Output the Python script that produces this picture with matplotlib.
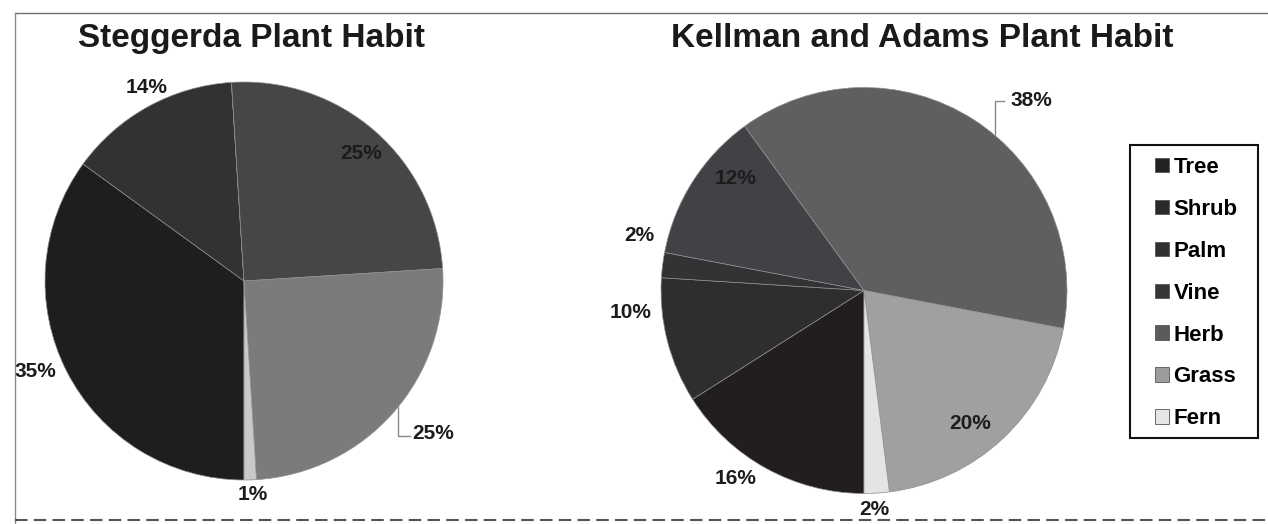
import matplotlib
matplotlib.use("Agg")
import matplotlib.pyplot as plt
from matplotlib.lines import Line2D
from matplotlib.patches import Rectangle

plt.rcParams['font.family'] = ['Liberation Sans', 'DejaVu Sans']

# plant habit shares (%) for the two surveys
habits = ['Tree', 'Shrub', 'Palm', 'Vine', 'Herb', 'Grass', 'Fern']
steggerda = [35, 14, 0, 0, 25, 25, 1]
kellman_adams = [16, 10, 2, 12, 38, 20, 2]

# grey shades of the printed slices
steggerda_colors = ['#1f1d1d', '#323234', '#38383b', '#3e3e42', '#464648', '#7b7b7b', '#c9c9c9']
kellman_colors = ['#211e1d', '#2e2e30', '#333336', '#414146', '#5f5f5f', '#a0a0a0', '#e4e4e4']
legend_colors = ['#222222', '#2a2a2a', '#303030', '#363636', '#5a5a5a', '#9c9c9c', '#e6e6e6']

# where each percentage sits, in pie-radius units (None = no label)
steggerda_label_xy = [(-1.05, -0.457), (-0.492, 0.97), None, None,
                      (0.588, 0.643), (0.95, -0.764), (0.045, -1.075)]
kellman_label_xy = [(-0.635, -0.924), (-1.148, -0.106), (-1.108, 0.273), (-0.631, 0.554),
                    (0.823, 0.938), (0.522, -0.653), (0.049, -1.081)]

W, H = 1268, 524
fig = plt.figure(figsize=(W / 100, H / 100), dpi=100)


def pie_axes(cx, cy, r):
    # axes box in pixel units, measured from the top left corner
    return fig.add_axes([(cx - r) / W, 1 - (cy + r) / H, 2 * r / W, 2 * r / H])


def draw_pie(ax, values, colors, label_xy):
    wedges, _ = ax.pie(values, colors=colors, startangle=-90, counterclock=False,
                       wedgeprops=dict(edgecolor='#8e8e8e', linewidth=0.5))
    ax.set_xlim(-1, 1)
    ax.set_ylim(-1, 1)
    ax.set_aspect('equal')
    for v, xy in zip(values, label_xy):
        if xy is None or v == 0:
            continue
        ax.text(xy[0], xy[1], f'{v}%', ha='center', va='center',
                fontsize=15, fontweight='bold', color='#1c1c1c')
    return wedges


ax1 = pie_axes(244, 281, 199)
draw_pie(ax1, steggerda, steggerda_colors, steggerda_label_xy)
ax1.plot([0.773, 0.773, 0.833], [-0.634, -0.78, -0.78], color='#8a8a8a', lw=1, clip_on=False)

ax2 = pie_axes(864, 290.5, 203)
draw_pie(ax2, kellman_adams, kellman_colors, kellman_label_xy)
ax2.plot([0.645, 0.645, 0.69], [0.764, 0.933, 0.933], color='#8a8a8a', lw=1, clip_on=False)

fig.text(251 / W, 1 - 47 / H, 'Steggerda Plant Habit', ha='center', va='baseline',
         fontsize=24, fontweight='bold', color='#1a1a1a')
fig.text(922 / W, 1 - 47 / H, 'Kellman and Adams Plant Habit', ha='center', va='baseline',
         fontsize=24, fontweight='bold', color='#1a1a1a')

handles = [Rectangle((0, 0), 1, 1, facecolor=c, edgecolor='#555555', linewidth=0.6)
           for c in legend_colors]
fig.legend(handles=handles, labels=habits, loc='upper left',
           bbox_to_anchor=(1155 / W, 1 - 157 / H), frameon=False,
           borderpad=0, borderaxespad=0, fontsize=16, handlelength=0.63,
           handleheight=0.63, handletextpad=0.2, labelspacing=0.94,
           prop=dict(size=16, weight='bold'))
fig.add_artist(Rectangle((1130 / W, 1 - 438 / H), 128 / W, 293 / H, transform=fig.transFigure,
                         fill=False, edgecolor='#111111', linewidth=1.5))

# page frame around both charts
fig.add_artist(Line2D([15 / W, 1], [1 - 13 / H] * 2, transform=fig.transFigure,
                      color='#6e6e6e', lw=1))
fig.add_artist(Line2D([15 / W] * 2, [1 - 13 / H, 0], transform=fig.transFigure,
                      color='#8a8a8a', lw=1))
fig.add_artist(Line2D([15 / W, 1], [1 - 520 / H] * 2, transform=fig.transFigure,
                      color='#555555', lw=1.5, ls=(0, (6, 3))))

fig.savefig('out.png', dpi=100)
